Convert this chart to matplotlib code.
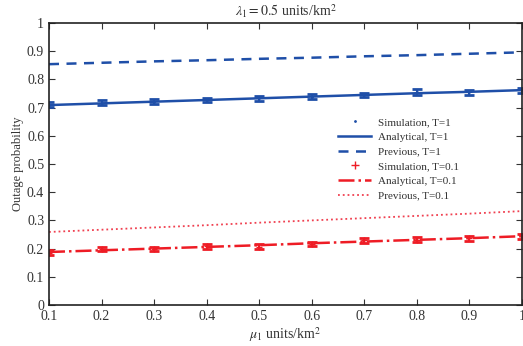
import numpy as np
import matplotlib
matplotlib.use('Agg')
import matplotlib.pyplot as plt
from matplotlib.lines import Line2D

plt.rcParams['font.family'] = 'Liberation Serif'
plt.rcParams['mathtext.fontset'] = 'stix'

# x values: mu_1 (units/km^2)
mu = [0.1, 0.2, 0.3, 0.4, 0.5, 0.6, 0.7, 0.8, 0.9, 1.0]

# T = 1
sim_t1 = [0.710, 0.718, 0.721, 0.727, 0.733, 0.739, 0.744, 0.756, 0.754, 0.762]
err_t1 = [0.009, 0.008, 0.008, 0.008, 0.008, 0.008, 0.008, 0.010, 0.008, 0.009]
ana_t1 = [0.709, 0.715, 0.721, 0.727, 0.733, 0.739, 0.745, 0.751, 0.756, 0.762]
prev_t1 = [0.854, 0.859, 0.864, 0.868, 0.873, 0.877, 0.882, 0.886, 0.891, 0.896]

# T = 0.1
sim_t01 = [0.186, 0.198, 0.199, 0.208, 0.207, 0.216, 0.229, 0.232, 0.236, 0.243]
err_t01 = [0.008, 0.008, 0.008, 0.008, 0.008, 0.008, 0.008, 0.008, 0.008, 0.008]
ana_t01 = [0.188, 0.194, 0.200, 0.206, 0.212, 0.219, 0.225, 0.231, 0.237, 0.244]
prev_t01 = [0.259, 0.267, 0.275, 0.283, 0.292, 0.300, 0.308, 0.316, 0.324, 0.333]

blue = '#1f4fa8'
red = '#ee1c25'
txt = '#333333'

fig = plt.figure(figsize=(5.23, 3.46), dpi=100)
ax = fig.add_axes([0.0937, 0.1185, 0.9043, 0.815])

ax.errorbar(mu, sim_t1, yerr=err_t1, fmt='.', color=blue, markersize=2,
            elinewidth=1.5, capsize=3.5, capthick=2)
ax.plot(mu, ana_t1, '-', color=blue, lw=1.8)
ax.plot(mu, prev_t1, '--', color=blue, lw=1.8, dashes=(4, 3))
ax.errorbar(mu, sim_t01, yerr=err_t01, fmt='+', color=red, markersize=5,
            elinewidth=1.5, capsize=3.5, capthick=2)
ax.plot(mu, ana_t01, '-.', color=red, lw=1.8)
ax.plot(mu, prev_t01, ':', color='#f04050', lw=1.3)

handles = [
    Line2D([], [], ls='none', marker='.', color=blue, markersize=2),
    Line2D([], [], ls='-', color=blue, lw=1.8),
    Line2D([], [], ls='--', color=blue, lw=1.8, dashes=(4, 3)),
    Line2D([], [], ls='none', marker='+', color=red, markersize=6),
    Line2D([], [], ls='-.', color=red, lw=1.8),
    Line2D([], [], ls=':', color='#f04050', lw=1.3),
]
labels = ['Simulation, T=1', 'Analytical, T=1', 'Previous, T=1',
          'Simulation, T=0.1', 'Analytical, T=0.1', 'Previous, T=0.1']

ax.set_xlim(0.1, 1.0)
ax.set_ylim(0, 1)
ax.set_xticks(mu)
ax.set_xticklabels(['0.1', '0.2', '0.3', '0.4', '0.5', '0.6', '0.7', '0.8', '0.9', '1'])
ax.set_yticks(np.arange(0, 1.01, 0.1))
ax.set_yticklabels(['0', '0.1', '0.2', '0.3', '0.4', '0.5', '0.6', '0.7', '0.8', '0.9', '1'])
ax.tick_params(direction='in', top=True, right=True, labelsize=10, colors=txt, length=4)
for s in ax.spines.values():
    s.set_color('#222222')
    s.set_linewidth(1.2)

ax.set_xlabel(r'$\mu_1$ units/km$^2$', fontsize=10, color=txt, labelpad=2)
ax.set_ylabel('Outage probability', fontsize=9, color=txt, labelpad=2)
ax.set_title(r'$\lambda_1 = 0.5$ units/km$^2$', fontsize=10, color=txt, pad=5)

leg = ax.legend(handles, labels, loc='center left', bbox_to_anchor=(0.59, 0.518),
                frameon=False, fontsize=8, handlelength=3.0, handletextpad=0.6,
                labelspacing=0.45)
for t in leg.get_texts():
    t.set_color(txt)

fig.savefig('out.png', dpi=100)
